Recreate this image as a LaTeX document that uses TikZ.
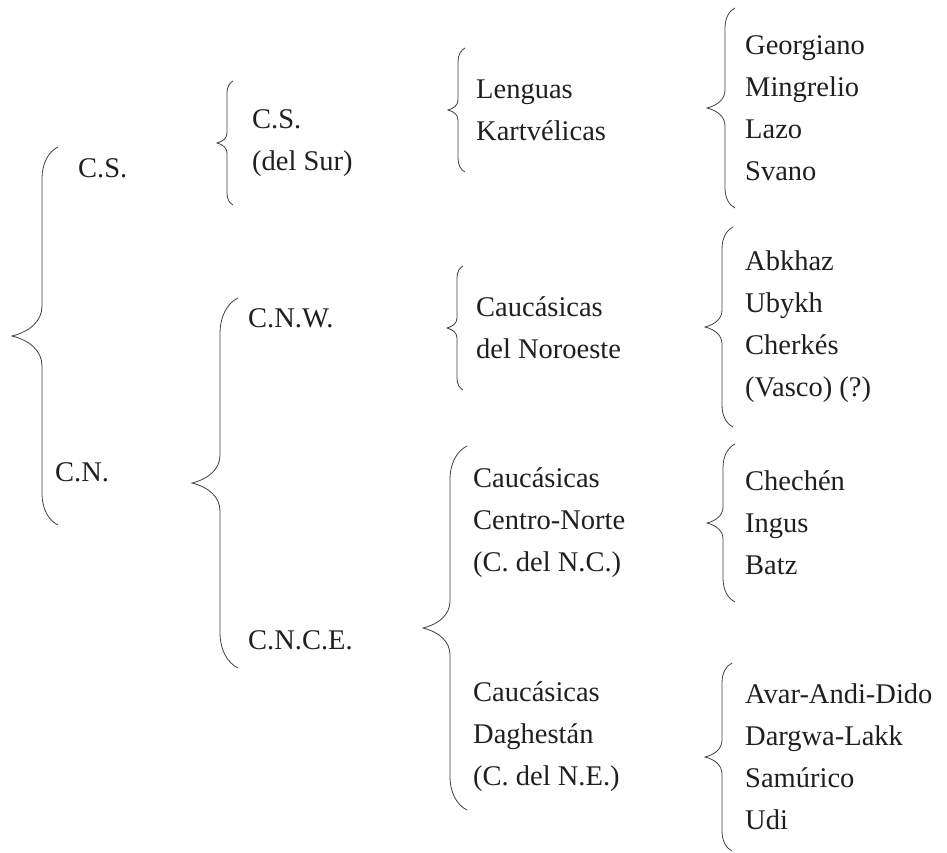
\documentclass[tikz,border=0pt]{standalone}
\usepackage{fontspec}
\setmainfont{Liberation Serif}
\usepackage{tikz}
\usetikzlibrary{positioning}

\tikzset{
  pics/curly/.style n args={3}{code={
    % #1 half height, #2 depth of the tip, #3 curl of the ends
    \draw[brc] (#3,-#1) .. controls (0.4*#3,-#1+0.3*#3) and (0,-#1+#3) .. (0,-#1+2*#3)
      -- (0,-#2) .. controls (0,-0.5*#2) and (-0.4*#2,-0.15*#2) .. (-#2,0)
      .. controls (-0.4*#2,0.15*#2) and (0,0.5*#2) .. (0,#2)
      -- (0,#1-2*#3) .. controls (0,#1-#3) and (0.4*#3,#1-0.3*#3) .. (#3,#1);
  }}
}

\begin{document}
\begin{tikzpicture}[
  x=1pt,y=-1pt,
  font=\fontsize{28.5}{42}\selectfont,
  every node/.style={align=left},
  lbl/.style={anchor=west,inner sep=0pt,text=black!88},
  brc/.style={line width=0.8pt,draw=black!75}
]
\useasboundingbox (0,0) rectangle (947,852);
% --- first level ---
\pic at (42,336) {curly={189}{30}{16}};
\node[lbl] (cs)  at (78,168) {C.S.};
\node[lbl] (cn)  at (55,472) {C.N.};
% --- second level ---
\pic at (227,143) {curly={62}{10}{6}};
\node[lbl] (sur) at (252,143) {C.S.\\(del Sur)};
\pic at (220,483) {curly={185}{28}{18}};
\node[lbl] (cnw)  at (248,318) {C.N.W.};
\node[lbl] (cnce) at (248,640) {C.N.C.E.};
% --- third level ---
\pic at (458,110) {curly={62}{10}{7}};
\node[lbl] (kart) at (476,110) {Lenguas\\Kartvélicas};
\pic at (457,328) {curly={62}{10}{6}};
\node[lbl] (noro) at (476,328) {Caucásicas\\del Noroeste};
\pic at (450,628) {curly={182}{27}{17}};
\node[lbl] (cnor) at (473,523) {Caucásicas\\Centro-Norte\\(C. del N.C.)};
\node[lbl] (dagh) at (473,737) {Caucásicas\\Daghestán\\(C. del N.E.)};
% --- languages ---
\pic at (725,108) {curly={100}{18}{10}};
\node[lbl] (g1) at (745,108) {Georgiano\\Mingrelio\\Lazo\\Svano};
\pic at (722,327) {curly={100}{17}{11}};
\node[lbl] (g2) at (745,327) {Abkhaz\\Ubykh\\Cherkés\\(Vasco) (?)};
\pic at (723,523) {curly={79}{16}{12}};
\node[lbl] (g3) at (745,523) {Chechén\\Ingus\\Batz};
\pic at (722,757) {curly={94}{17}{10}};
\node[lbl] (g4) at (745,757) {Avar-Andi-Dido\\Dargwa-Lakk\\Samúrico\\Udi};
\end{tikzpicture}
\end{document}
